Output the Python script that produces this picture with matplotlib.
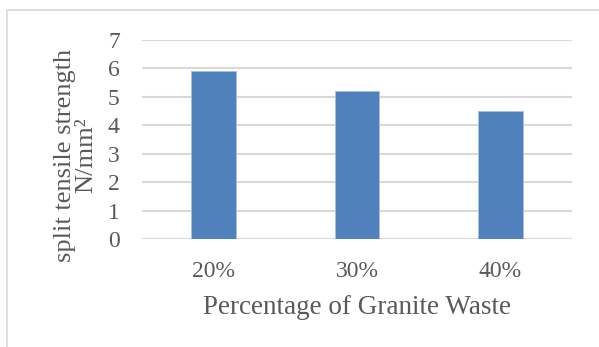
import numpy as np
import matplotlib.pyplot as plt
from matplotlib.patches import Rectangle

# Dados
categorias = ["20%", "30%", "40%"]
valores = [5.9, 5.2, 4.5]
y_ticks = [0, 1, 2, 3, 4, 5, 6, 7]

plt.rcParams['font.family'] = ['Liberation Serif', 'DejaVu Serif']
cor_texto = '#595959'

fig = plt.figure(figsize=(5.99, 3.47), dpi=100)

# Moldura cinza clara do gráfico
fig.patches.append(Rectangle((7/599, -0.1), 1.0, 1 - 10/347 + 0.1,
                             transform=fig.transFigure, fill=False,
                             edgecolor='#d9d9d9', linewidth=1.2))

ax = fig.add_axes([142/599, 1 - 239/347, 430/599, 199/347])

x = np.arange(len(categorias))
ax.bar(x, valores, width=0.31, color='#4f81bd', edgecolor='#a7c0de',
       linewidth=0.6, zorder=3)

ax.set_xlim(-0.5, len(categorias) - 0.5)
ax.set_ylim(0, 7)
ax.set_yticks(y_ticks)
ax.set_xticks(x)
ax.set_xticklabels(categorias)

ax.grid(axis='y', color='#d9d9d9', linewidth=1.5, zorder=0)
for s in ax.spines.values():
    s.set_visible(False)
ax.tick_params(length=0, labelsize=17, colors=cor_texto)
ax.tick_params(axis='y', pad=16)
ax.tick_params(axis='x', pad=16)

ax.set_xlabel("Percentage of Granite Waste", fontsize=19.5, color=cor_texto,
              labelpad=9)
ax.set_ylabel("split tensile strength\nN/mm²", fontsize=19,
              color=cor_texto, linespacing=0.95)
# rótulo do eixo y um pouco abaixo do centro, como no original
ax.yaxis.set_label_coords(-45/430, 0.42)

fig.savefig("out.png", dpi=100)
